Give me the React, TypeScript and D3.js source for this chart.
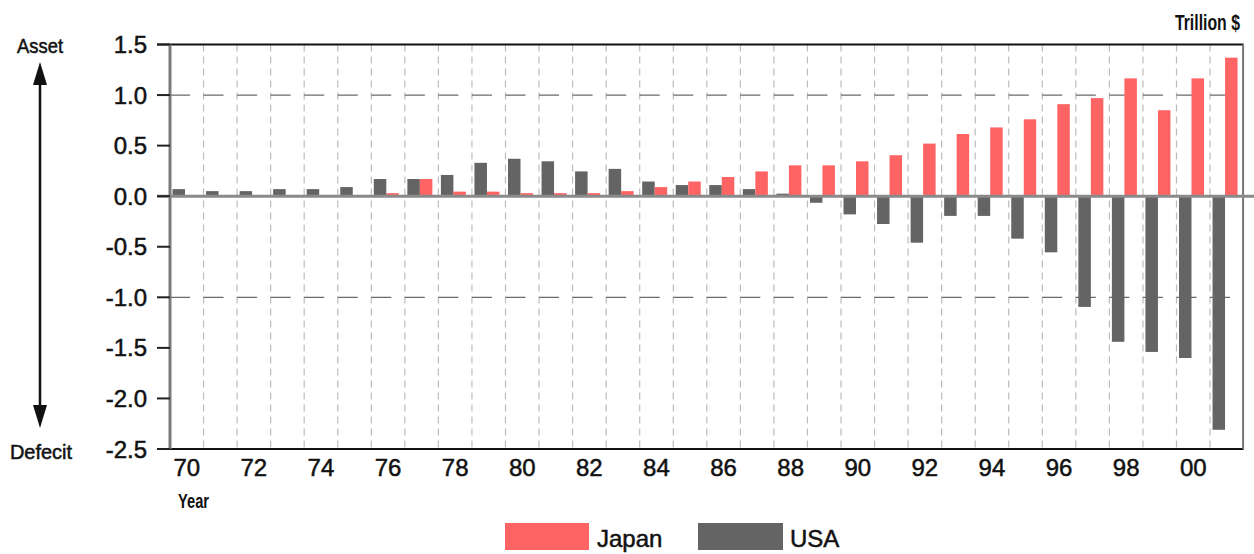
import React from 'react';
import * as d3 from 'd3';

// Net external position, trillion US$, by year
const years = [
  1970, 1971, 1972, 1973, 1974, 1975, 1976, 1977, 1978, 1979,
  1980, 1981, 1982, 1983, 1984, 1985, 1986, 1987, 1988, 1989,
  1990, 1991, 1992, 1993, 1994, 1995, 1996, 1997, 1998, 1999,
  2000, 2001,
];
const japan = [
  0, 0, 0, 0, 0, 0, 0.03, 0.17, 0.045, 0.045,
  0.03, 0.03, 0.03, 0.05, 0.09, 0.145, 0.19, 0.245, 0.305, 0.305,
  0.345, 0.405, 0.52, 0.615, 0.68, 0.76, 0.91, 0.97, 1.165, 0.85,
  1.165, 1.37,
];
const usa = [
  0.07, 0.05, 0.05, 0.07, 0.07, 0.09, 0.17, 0.17, 0.21, 0.33,
  0.37, 0.345, 0.245, 0.27, 0.145, 0.11, 0.11, 0.07, 0.025, -0.065,
  -0.18, -0.275, -0.46, -0.195, -0.195, -0.42, -0.555, -1.095, -1.44, -1.54,
  -1.6, -2.31,
];
const seriesNames = ['USA', 'Japan'];
const yTicks = [1.5, 1.0, 0.5, 0, -0.5, -1.0, -1.5, -2.0, -2.5];
const yTickLabels = ['1.5', '1.0', '0.5', '0.0', '-0.5', '-1.0', '-1.5', '-2.0', '-2.5'];
const xLabelYears = [1970, 1972, 1974, 1976, 1978, 1980, 1982, 1984, 1986, 1988, 1990, 1992, 1994, 1996, 1998, 2000];
const xTickLabels = ['70', '72', '74', '76', '78', '80', '82', '84', '86', '88', '90', '92', '94', '96', '98', '00'];
const gridDashValues = [1.0, -1.0];

const JAPAN_RED = '#FF6464';
const USA_GRAY = '#646464';
const FONT = "'Liberation Sans', Arial, sans-serif";

// slightly heavier text strokes
const heavy = { stroke: '#111', strokeWidth: 0.5, paintOrder: 'stroke' as const };

export default function App() {
  const width = 1254;
  const height = 554;
  const left = 170;
  const right = 1243.6;
  const top = 44.5;
  const bottom = 449;

  const x = d3.scaleBand<number>().domain(years).range([left, right]).padding(0);
  const inner = d3.scaleBand<string>().domain(seriesNames).range([2.5, 27.5]).padding(0);
  const y = d3.scaleLinear().domain([-2.5, 1.5]).range([bottom, top]);
  const y0 = y(0);

  const series = [
    { name: 'USA', values: usa, color: USA_GRAY },
    { name: 'Japan', values: japan, color: JAPAN_RED },
  ];

  return (
    <svg
      width={width}
      height={height}
      style={{ position: 'absolute', left: 0, top: 0, background: '#fff' }}
      fontFamily={FONT}
    >
      <rect x={0} y={0} width={width} height={height} fill="#fff" />

      {/* vertical year separators */}
      {years.slice(1).map((yr) => (
        <line
          key={'vg' + yr}
          x1={x(yr)}
          x2={x(yr)}
          y1={top}
          y2={bottom}
          stroke="#bcbcbc"
          strokeWidth={1.2}
          strokeDasharray="7 5"
        />
      ))}

      {/* dashed reference lines */}
      {gridDashValues.map((v) => (
        <line
          key={'hg' + v}
          x1={left}
          x2={right}
          y1={y(v)}
          y2={y(v)}
          stroke="#6a6a6a"
          strokeWidth={1.3}
          strokeDasharray={`20 ${x.bandwidth() - 20}`}
        />
      ))}

      {/* bars */}
      {series.map((s) =>
        s.values.map((v, i) => {
          const yr = years[i];
          const bx = (x(yr) as number) + (inner(s.name) as number);
          const yy = y(Math.max(0, v));
          const h = Math.abs(y(v) - y0);
          if (h <= 0) return null;
          return (
            <rect
              key={s.name + yr}
              x={bx}
              y={yy}
              width={inner.bandwidth()}
              height={h}
              fill={s.color}
            />
          );
        })
      )}

      {/* frame */}
      <line x1={157} x2={right} y1={top} y2={top} stroke="#111" strokeWidth={2} />
      <line x1={157} x2={right} y1={bottom} y2={bottom} stroke="#111" strokeWidth={2} />
      <line x1={right - 0.5} x2={right - 0.5} y1={top} y2={bottom} stroke="#777" strokeWidth={2} />
      <line x1={left} x2={left} y1={top} y2={bottom} stroke="#7a7a7a" strokeWidth={3} />

      {/* zero line */}
      <line x1={157} x2={width} y1={y0} y2={y0} stroke="#8a8a8a" strokeWidth={3} />

      {/* y ticks and labels */}
      {yTicks.map((t, i) => (
        <g key={'yt' + t}>
          <line x1={157} x2={left} y1={y(t)} y2={y(t)} stroke="#222" strokeWidth={2} />
          <text x={147} y={y(t) + 8.5} textAnchor="end" fontSize={24} fill="#111" {...heavy}>
            {yTickLabels[i]}
          </text>
        </g>
      ))}

      {/* x labels */}
      {xLabelYears.map((yr, i) => (
        <text
          key={'xl' + yr}
          x={(x(yr) as number) + x.bandwidth() / 2}
          y={476}
          textAnchor="middle"
          fontSize={24}
          fill="#111"
          {...heavy}
        >
          {xTickLabels[i]}
        </text>
      ))}

      <text transform="translate(178,508) scale(0.7,1)" fontSize={21} fontWeight="bold" fill="#111">
        Year
      </text>
      <text transform="translate(1240,30) scale(0.72,1)" textAnchor="end" fontSize={22} fontWeight="bold" fill="#111">
        Trillion $
      </text>

      {/* Asset / Defecit arrow */}
      <text transform="translate(40,53) scale(0.92,1)" textAnchor="middle" fontSize={20} fill="#111" {...heavy}>
        Asset
      </text>
      <text x={41} y={459} textAnchor="middle" fontSize={20} fill="#111" {...heavy}>
        Defecit
      </text>
      <line x1={40} x2={40} y1={80} y2={410} stroke="#111" strokeWidth={2.5} />
      <path d="M40,62 L33,85 L47,85 Z" fill="#111" />
      <path d="M40,428 L33,405 L47,405 Z" fill="#111" />

      {/* legend */}
      <rect x={505} y={523} width={84} height={27} fill={JAPAN_RED} />
      <text x={597} y={547} fontSize={24} fill="#111" {...heavy}>Japan</text>
      <rect x={698} y={523} width={85} height={27} fill={USA_GRAY} />
      <text x={790} y={547} fontSize={24} fill="#111" {...heavy}>USA</text>
    </svg>
  );
}
